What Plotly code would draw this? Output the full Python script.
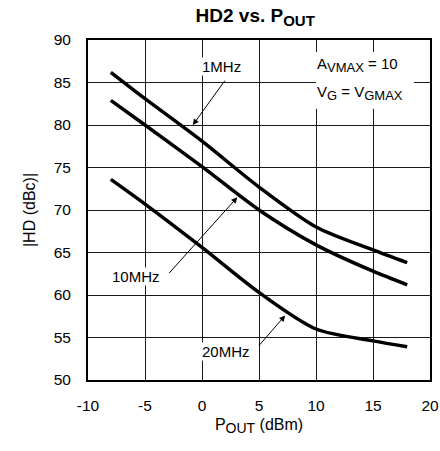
import plotly.graph_objects as go

# Data
x_1mhz = [-8, -5, 0, 5, 10, 15, 18]
y_1mhz = [86.2, 83.1, 78.1, 72.7, 68.0, 65.3, 63.8]

x_10mhz = [-8, -5, 0, 5, 10, 15, 18]
y_10mhz = [82.9, 80.0, 75.1, 70.0, 65.9, 62.8, 61.2]

x_20mhz = [-8, -5, 0, 5, 10, 15, 18]
y_20mhz = [73.6, 70.7, 65.6, 60.3, 56.0, 54.6, 53.9]

x_ticks = [-10, -5, 0, 5, 10, 15, 20]
y_ticks = [50, 55, 60, 65, 70, 75, 80, 85, 90]

FONT = "Liberation Sans, Arial, sans-serif"

fig = go.Figure()
for xs, ys, name in [(x_1mhz, y_1mhz, "1MHz"), (x_10mhz, y_10mhz, "10MHz"), (x_20mhz, y_20mhz, "20MHz")]:
    fig.add_trace(go.Scatter(x=xs, y=ys, mode="lines", name=name,
                             line=dict(color="black", width=3.5, shape="spline", smoothing=0.8),
                             showlegend=False))

axis_common = dict(showgrid=True, gridcolor="#1a1a1a", gridwidth=1.3, showline=True,
                   linecolor="#000000", linewidth=2, mirror=True, zeroline=False,
                   ticks="outside", tickcolor="rgba(0,0,0,0)", automargin=False,
                   tickfont=dict(family=FONT, size=15.5, color="black"))

fig.update_xaxes(range=[-10, 20], tickmode="array", tickvals=x_ticks, ticktext=[str(v) for v in x_ticks],
                 ticklen=10,
                 title=dict(text="P<sub><span style='font-size:14px'>OUT</span></sub> (dBm)",
                            font=dict(family=FONT, size=16, color="black"), standoff=6),
                 **axis_common)
fig.update_yaxes(range=[50, 90], tickmode="array", tickvals=y_ticks, ticktext=[str(v) for v in y_ticks],
                 ticklen=12,
                 title=dict(text="|HD (dBc)|", font=dict(family=FONT, size=16, color="black"), standoff=14),
                 **axis_common)

# White box behind the conditions text
fig.add_shape(type="rect", xref="x", yref="y", x0=10.0, x1=18.6, y0=81.9, y1=88.6,
              fillcolor="white", line=dict(width=0), layer="above")

ann_font = dict(family=FONT, size=15, color="black")
fig.add_annotation(x=9.9, y=87.1, xref="x", yref="y",
                   text="A<sub><span style='font-size:13px'>VMAX</span></sub> = 10",
                   showarrow=False, xanchor="left", font=ann_font)
fig.add_annotation(x=9.9, y=83.8, xref="x", yref="y",
                   text="V<sub><span style='font-size:13px'>G</span></sub> = V<sub><span style='font-size:13px'>GMAX</span></sub>",
                   showarrow=False, xanchor="left", font=ann_font)

# Label annotations with arrows
labels = [
    ("1MHz", 1.75, 86.9, 2.1, 85.4, -0.8, 80.0),
    ("10MHz", -5.8, 62.2, -3.0, 62.4, 3.1, 71.5),
    ("20MHz", 2.1, 53.4, 4.9, 53.9, 7.3, 57.6),
]
for text, tx, ty, ax0, ay0, hx, hy in labels:
    fig.add_annotation(x=tx, y=ty, xref="x", yref="y", text=text, showarrow=False,
                       font=ann_font, bgcolor="white", borderpad=0)
    fig.add_annotation(x=hx, y=hy, ax=ax0, ay=ay0, xref="x", yref="y", axref="x", ayref="y",
                       text="", showarrow=True, arrowhead=2, arrowsize=1.2, arrowwidth=1,
                       arrowcolor="black")

fig.update_layout(
    width=440, height=451, autosize=False,
    margin=dict(l=88, r=10, t=40, b=71, autoexpand=False),
    paper_bgcolor="white", plot_bgcolor="white",
    title=dict(text="<b>HD2 vs. P<sub><span style='font-size:15px'>OUT</span></sub></b>",
               x=0.58, xanchor="center", y=0.967, yanchor="middle",
               font=dict(family=FONT, size=19, color="black")),
)

fig.write_html("out.html", config={"displayModeBar": False, "responsive": False},
               post_script="document.body.style.margin='0';document.body.style.overflow='hidden';")
